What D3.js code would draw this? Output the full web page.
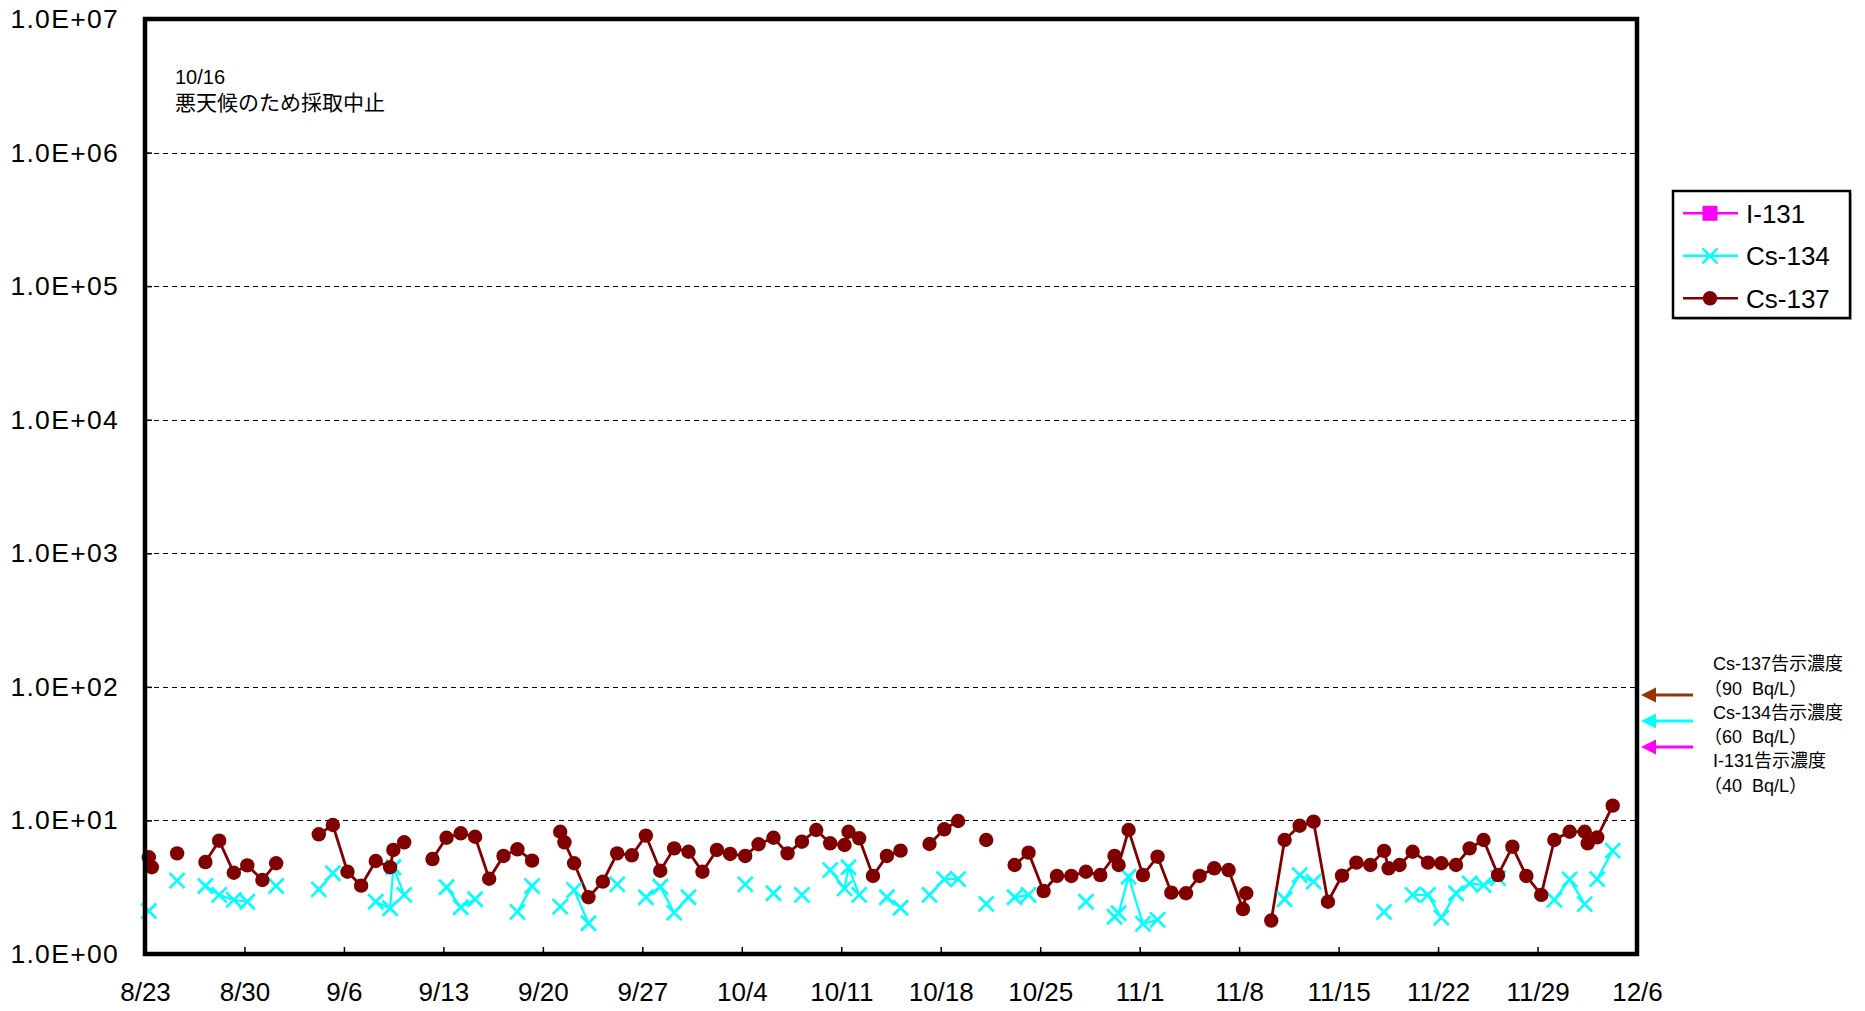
<!DOCTYPE html>
<html>
<head>
<meta charset="utf-8">
<script src="https://cdn.jsdelivr.net/npm/d3@7"></script>
<style>
  body { margin: 0; background: #fff; }
  text { font-family: "Liberation Sans", Arial, "Noto Sans CJK JP", sans-serif; white-space: pre; }
</style>
</head>
<body>
<div id="chart"></div>
<script>
// x axis: days since 8/23, one label every 7 days
const xTickLabels = ["8/23", "8/30", "9/6", "9/13", "9/20", "9/27", "10/4", "10/11",
  "10/18", "10/25", "11/1", "11/8", "11/15", "11/22", "11/29", "12/6"];
const yTickValues = [1, 10, 100, 1e3, 1e4, 1e5, 1e6, 1e7];

// sampling time (days after 8/23); rows with both null = no sample (line break)
const sampleDay = [
  0.27, 0.48, 1.3, 2.26, 3.3, 4.25, 5.22, 6.25, 7.2, 8.26,
  9.23, 10.3, 12.23, 13.22, 14.25, 15.21, 16.24, 17.25, 17.48, 18.24,
  19.3, 20.23, 21.22, 22.22, 23.23, 24.22, 25.23, 26.21, 27.24, 28.3,
  29.22, 29.52, 30.2, 31.21, 32.22, 33.23, 34.26, 35.25, 36.26, 37.24,
  38.25, 39.23, 40.25, 41.18, 42.24, 43.18, 44.23, 45.22, 46.23, 47.24,
  48.22, 49.23, 49.51, 50.26, 51.23, 52.21, 53.17, 54.3, 55.21, 56.25,
  57.22, 58.3, 59.2, 60.3, 61.2, 62.18, 63.24, 64.18, 65.19, 66.22,
  67.23, 68.23, 68.52, 69.22, 70.23, 71.26, 72.23, 73.26, 74.22, 75.25,
  76.26, 77.27, 77.5, 78.3, 79.26, 80.2, 81.26, 82.24, 83.25, 84.24,
  85.25, 86.23, 87.2, 87.52, 88.29, 89.21, 90.29, 91.23, 92.26, 93.22,
  94.2, 95.22, 96.23, 97.21, 98.26, 99.18, 100.26, 101.32, 101.53, 102.2,
  103.29
];
// Bq/L, null = not detected
const cs134 = [
  2.10, null, null, 3.54, null, 3.23, 2.77, 2.54, 2.46, null,
  3.23, null, 3.05, 4.02, null, null, 2.46, 2.20, 4.46, 2.77,
  null, null, 3.16, 2.24, 2.57, null, null, 2.07, 3.23, null,
  2.26, null, 3.01, 1.70, null, 3.32, null, 2.66, 3.19, 2.04,
  2.66, null, null, null, 3.32, null, 2.85, null, 2.77, null,
  4.25, 3.10, 4.46, 2.77, null, 2.66, 2.22, null, 2.77, 3.64,
  3.64, null, 2.37, null, 2.66, 2.77, null, null, null, 2.46,
  null, 1.90, 2.02, 3.79, 1.68, 1.80, null, null, null, null,
  null, null, null, null, null, 2.57, 3.90, 3.48, null, null,
  null, null, 2.07, null, null, 2.77, 2.77, 1.87, 2.85, 3.38,
  3.28, 3.70, null, null, null, 2.54, 3.62, 2.36, null, 3.64,
  5.94
];
const cs137 = [
  5.30, 4.46, null, 5.67, null, 4.88, 7.05, 4.06, 4.61, 3.58,
  4.78, null, 7.87, 9.24, 4.13, 3.25, 4.97, 4.46, 6.01, 6.86,
  null, 5.14, 7.42, 8.01, 7.55, 3.66, 5.42, 6.08, 5.00, null,
  8.23, 6.86, 4.78, 2.66, 3.48, 5.67, 5.48, 7.70, 4.20, 6.18,
  5.83, 4.13, 6.01, 5.61, 5.42, 6.63, 7.42, 5.67, 6.93, 8.48,
  6.74, 6.55, 8.23, 7.35, 3.84, 5.42, 5.94, null, 6.66, 8.58,
  9.90, null, 7.14, null, 4.64, 5.74, 2.96, 3.84, 3.84, 4.13,
  3.90, 5.42, 4.64, 8.48, 3.90, 5.35, 2.88, 2.85, 3.84, 4.38,
  4.25, 2.17, 2.85, null, 1.78, 7.14, 9.13, 9.79, 2.46, 3.86,
  4.83, 4.64, 5.92, 4.38, 4.64, 5.83, 4.83, 4.78, 4.64, 6.18,
  7.14, 3.90, 6.36, 3.84, 2.77, 7.14, 8.23, 8.23, 6.74, 7.47,
  12.9
];
const i131 = []; // 全て不検出

const seriesNames = ["I-131", "Cs-134", "Cs-137"];
const seriesColors = ["#ff00ff", "#00ffff", "#800000"];

// 告示濃度 (Bq/L)
const limitNames = ["Cs-137", "Cs-134", "I-131"];
const limitValues = [90, 60, 40];
const limitColors = ["#993300", "#00ffff", "#ff00ff"];

const W = 1865, H = 1011;
const plot = { left: 145, right: 1637, top: 19, bottom: 954 };

const svg = d3.select("#chart").append("svg")
  .attr("width", W).attr("height", H);

const x = d3.scaleLinear().domain([0, 105]).range([plot.left, plot.right]);
const y = d3.scaleLog().domain([1, 1e7]).range([plot.bottom, plot.top]);

// grid lines
svg.append("g").selectAll("line")
  .data(yTickValues.slice(1, -1))
  .join("line")
    .attr("x1", plot.left).attr("x2", plot.right)
    .attr("y1", d => Math.round(y(d)) + 0.5).attr("y2", d => Math.round(y(d)) + 0.5)
    .attr("stroke", "#000").attr("stroke-width", 1)
    .attr("stroke-dasharray", "5,4");

// axes
const expFmt = v => "1.0E+" + String(Math.round(Math.log10(v))).padStart(2, "0");
const yAxis = svg.append("g")
  .attr("transform", `translate(${plot.left},0)`)
  .call(d3.axisLeft(y).tickValues(yTickValues).tickFormat(expFmt)
    .tickSizeInner(-7).tickSizeOuter(0).tickPadding(26));
yAxis.select(".domain").remove();
yAxis.selectAll("line").attr("stroke", "#000").attr("stroke-width", 1.5);
yAxis.selectAll("text").attr("font-size", 26.5).attr("letter-spacing", "1.3px")
  .attr("fill", "#000");

const xAxis = svg.append("g")
  .attr("transform", `translate(0,${plot.bottom})`)
  .call(d3.axisBottom(x).tickValues(d3.range(0, 106, 7))
    .tickFormat((d, i) => xTickLabels[i])
    .tickSizeInner(-7).tickSizeOuter(0).tickPadding(29));
xAxis.select(".domain").remove();
xAxis.selectAll("line").attr("stroke", "#000").attr("stroke-width", 1.5);
xAxis.selectAll("text").attr("font-size", 26).attr("fill", "#000");

// series data
const pts = vals => sampleDay.map((d, i) => ({ d, v: vals[i] }));
const line = d3.line()
  .defined(p => p.v != null)
  .x(p => x(p.d)).y(p => y(p.v));

const s134 = pts(cs134), s137 = pts(cs137);

svg.append("path").datum(s134)
  .attr("d", line).attr("fill", "none")
  .attr("stroke", seriesColors[1]).attr("stroke-width", 2.2);
svg.append("path").datum(s137)
  .attr("d", line).attr("fill", "none")
  .attr("stroke", seriesColors[2]).attr("stroke-width", 2.8);

// Cs-134 markers (x)
const xMark = 7.5;
const xPath = `M${-xMark},${-xMark}L${xMark},${xMark}M${-xMark},${xMark}L${xMark},${-xMark}`;
svg.append("g").selectAll("path")
  .data(s134.filter(p => p.v != null))
  .join("path")
    .attr("transform", p => `translate(${x(p.d)},${y(p.v)})`)
    .attr("d", xPath)
    .attr("stroke", seriesColors[1]).attr("stroke-width", 2.6).attr("fill", "none");

// Cs-137 markers (dots)
svg.append("g").selectAll("circle")
  .data(s137.filter(p => p.v != null))
  .join("circle")
    .attr("cx", p => x(p.d)).attr("cy", p => y(p.v))
    .attr("r", 7.2).attr("fill", seriesColors[2]);

// frame
svg.append("rect")
  .attr("x", plot.left).attr("y", plot.top)
  .attr("width", plot.right - plot.left).attr("height", plot.bottom - plot.top)
  .attr("fill", "none").attr("stroke", "#000").attr("stroke-width", 4.5);

// note
const note = svg.append("text").attr("x", 175).attr("y", 84).attr("font-size", 20).attr("fill", "#000");
note.append("tspan").text("10/16");
note.append("tspan").attr("x", 175).attr("dy", 26).attr("font-size", 21).text("悪天候のため採取中止");

// legend
const lg = svg.append("g").attr("transform", "translate(1673,191)");
lg.append("rect").attr("x", 2).attr("y", 2).attr("width", 177).attr("height", 127).attr("fill", "#bbb");
lg.append("rect").attr("width", 177).attr("height", 127)
  .attr("fill", "#fff").attr("stroke", "#000").attr("stroke-width", 2.5);
seriesNames.forEach((name, i) => {
  const g = lg.append("g").attr("transform", `translate(0,${22.3 + i * 42.5})`);
  g.append("line").attr("x1", 10).attr("x2", 65)
    .attr("stroke", seriesColors[i]).attr("stroke-width", 2.4);
  if (i === 0) {
    g.append("rect").attr("x", 37 - 7.5).attr("y", -7.5).attr("width", 15).attr("height", 15)
      .attr("fill", seriesColors[i]);
  } else if (i === 1) {
    g.append("path").attr("transform", "translate(37,0)").attr("d", xPath)
      .attr("stroke", seriesColors[i]).attr("stroke-width", 2.4);
  } else {
    g.append("circle").attr("cx", 37).attr("r", 7.2).attr("fill", seriesColors[i]);
  }
  g.append("text").attr("x", 73).attr("y", 9.5).attr("font-size", 26).attr("fill", "#000").text(name);
});

// limit arrows (stacked from the Cs-137 limit) + labels
const arrowX0 = plot.right + 4, arrowX1 = plot.right + 56;
const arrowTop = y(limitValues[0]) + 2;
limitValues.forEach((v, i) => {
  const ay = arrowTop + i * 26;
  svg.append("line")
    .attr("x1", arrowX0 + 12).attr("x2", arrowX1)
    .attr("y1", ay).attr("y2", ay)
    .attr("stroke", limitColors[i]).attr("stroke-width", 3);
  svg.append("path")
    .attr("d", `M${arrowX0},${ay}L${arrowX0 + 15},${ay - 7.5}L${arrowX0 + 15},${ay + 7.5}Z`)
    .attr("fill", limitColors[i]);
});
limitNames.forEach((name, i) => {
  const t = svg.append("text").attr("x", 1713).attr("y", 670 + i * 48.5)
    .attr("font-size", 18).attr("fill", "#000");
  t.append("tspan").text(name + "告示濃度");
  t.append("tspan").attr("x", 1704).attr("dy", 24.5).text("（" + limitValues[i] + "  Bq/L）");
});
</script>
</body>
</html>
